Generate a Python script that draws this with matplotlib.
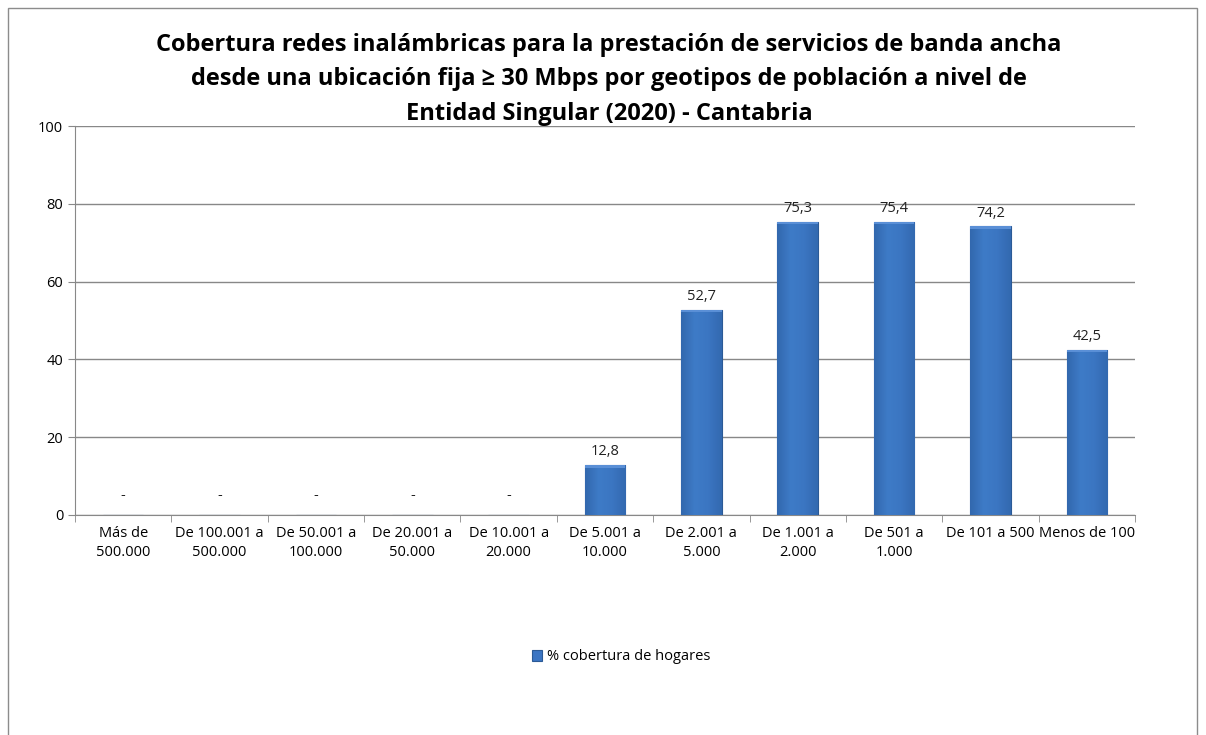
import numpy as np
import matplotlib.pyplot as plt
from matplotlib.patches import Rectangle
from matplotlib.colors import LinearSegmentedColormap

plt.rcParams['font.family'] = ['Open Sans', 'DejaVu Sans']

categories = ["Más de\n500.000", "De 100.001 a\n500.000", "De 50.001 a\n100.000",
              "De 20.001 a\n50.000", "De 10.001 a\n20.000", "De 5.001 a\n10.000",
              "De 2.001 a\n5.000", "De 1.001 a\n2.000", "De 501 a\n1.000",
              "De 101 a 500", "Menos de 100"]
values = [None, None, None, None, None, 12.8, 52.7, 75.3, 75.4, 74.2, 42.5]
series_name = "% cobertura de hogares"
title = ("Cobertura redes inalámbricas para la prestación de servicios de banda ancha\n"
         "desde una ubicación fija ≥ 30 Mbps por geotipos de población a nivel de\n"
         "Entidad Singular (2020) - Cantabria")

fig = plt.figure(figsize=(12.06, 7.35), dpi=100)
# chart frame
fig.patches.append(Rectangle((8 / 1206, -0.01), (1197 - 8) / 1206, 1 - 8 / 735 + 0.01,
                             transform=fig.transFigure, fill=False,
                             edgecolor="#8c8c8c", linewidth=1))

ax = fig.add_axes([75 / 1206, 1 - 515 / 735, (1135 - 75) / 1206, (515 - 126) / 735])

x = np.arange(len(categories))
h = [v if v is not None else 0 for v in values]
bars = ax.bar(x, h, width=0.42, color="#3b75c3", edgecolor="#2b5a96", linewidth=0.8,
              label=series_name, zorder=3)

# soft shading across the bar
shade = LinearSegmentedColormap.from_list("shade", ["#3268ae", "#3e7bc7", "#3b76c2", "#3369b0"])
grad = np.linspace(0, 1, 64).reshape(1, -1)
for b in bars:
    if b.get_height() <= 0:
        continue
    x0, w, hh = b.get_x(), b.get_width(), b.get_height()
    im = ax.imshow(grad, cmap=shade, aspect="auto", extent=(x0, x0 + w, 0, hh),
                   zorder=3.5, interpolation="bilinear")
    im.set_clip_path(b)
    ax.add_patch(Rectangle((x0, hh - 0.6), w, 0.6, color="#5a8fd6", zorder=3.6, lw=0))

for xi, v in zip(x, values):
    if v is None:
        ax.text(xi, 3, "-", ha="center", va="bottom", fontsize=10.5, color="#222222")
    else:
        ax.text(xi, v + 1.5, f"{v:.1f}".replace(".", ","), ha="center", va="bottom",
                fontsize=10.5, color="#222222")

ax.set_xlim(-0.5, len(categories) - 0.5)
ax.set_ylim(0, 100)
ax.set_yticks(range(0, 101, 20))
ax.yaxis.grid(True, color="#888888", linewidth=1, zorder=0)
ax.set_axisbelow(True)

ax.set_xticks(x)
ax.set_xticklabels(categories, fontsize=10.5, linespacing=1.35)
ax.set_xticks(np.arange(-0.5, len(categories), 1), minor=True)
ax.tick_params(axis="x", which="major", length=0, pad=8)
ax.tick_params(axis="x", which="minor", length=5, color="#888888")
ax.tick_params(axis="y", length=5, color="#888888", labelsize=10.5)

for s in ["top", "right"]:
    ax.spines[s].set_visible(False)
ax.spines["left"].set_color("#888888")
ax.spines["bottom"].set_color("#888888")

fig.text(0.505, 1 - 33 / 735, title, ha="center", va="top", fontsize=17,
         fontweight="bold", linespacing=1.58)

fig.legend(handles=[bars], labels=[series_name], loc="center",
           bbox_to_anchor=(0.515, 1 - 657 / 735), frameon=False, fontsize=10.5,
           handlelength=0.7, handleheight=0.7, handletextpad=0.3)

fig.savefig("out.png", dpi=100)
